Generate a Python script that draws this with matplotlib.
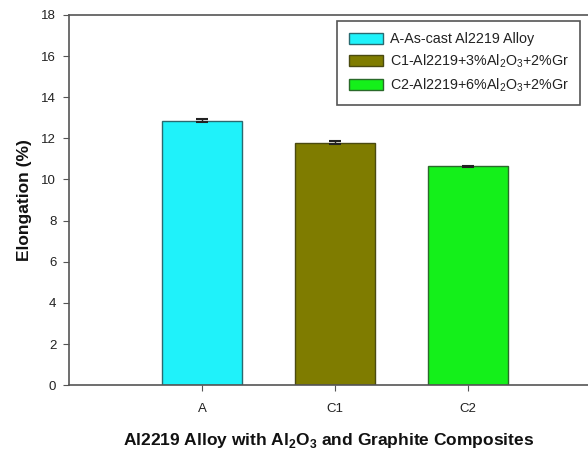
import matplotlib
matplotlib.use("Agg")
from matplotlib import pyplot as plt

plt.rcParams['font.family'] = ['Liberation Sans', 'DejaVu Sans']
plt.rcParams['mathtext.fontset'] = 'custom'
plt.rcParams['mathtext.rm'] = 'Liberation Sans'
plt.rcParams['mathtext.bf'] = 'Liberation Sans:bold'

samples = ["A", "C1", "C2"]
elongation = [12.85, 11.78, 10.63]
errors = [0.08, 0.07, 0.04]
legend_labels = [
    "A-As-cast Al2219 Alloy",
    r"C1-Al2219+3%Al$_\mathregular{2}$O$_\mathregular{3}$+2%Gr",
    r"C2-Al2219+6%Al$_\mathregular{2}$O$_\mathregular{3}$+2%Gr",
]
colors = ["#1ff2fa", "#7f7c00", "#14f01a"]
edges = ["#2a6a70", "#4a4a10", "#2a6a2a"]

fig = plt.figure(figsize=(5.88, 4.51), dpi=100)
ax = fig.add_axes([0.117, 0.146, 0.883, 0.821])

pos = [1, 2, 3]
bars = ax.bar(pos, elongation, width=0.6, color=colors, edgecolor=edges, linewidth=1,
              yerr=errors, capsize=4, error_kw=dict(ecolor="#222222", elinewidth=1, capthick=1.5))

ax.set_xlim(0, 3.9)
ax.set_ylim(0, 18)
ax.set_yticks(range(0, 19, 2))
ax.set_xticks(pos)
ax.set_xticklabels(samples)
ax.tick_params(axis="both", labelsize=9.5, labelcolor="#222222", color="#555555",
               length=4.5, pad=4.5, direction="out")
ax.tick_params(axis="x", pad=8)
ax.spines["right"].set_visible(False)
for s in ["left", "top", "bottom"]:
    ax.spines[s].set_color("#555555")
    ax.spines[s].set_linewidth(1.2)

ax.set_ylabel("Elongation (%)", fontsize=12.5, fontweight="bold", labelpad=7, color="#111111")
ax.set_xlabel(r"Al2219 Alloy with Al$_\mathregular{2}$O$_\mathregular{3}$ and Graphite Composites",
              fontsize=12.5, fontweight="bold", labelpad=12, color="#111111")

leg = ax.legend(bars, legend_labels, loc="upper right", bbox_to_anchor=(0.985, 0.984),
                borderaxespad=0, fontsize=10.3, fancybox=False, framealpha=1, edgecolor="#555555",
                handlelength=2.4, handleheight=0.85, handletextpad=0.5,
                borderpad=0.8, labelspacing=0.45)
leg.get_frame().set_linewidth(1.2)
for t in leg.get_texts():
    t.set_color("#222222")

fig.savefig("out.png", dpi=100)
